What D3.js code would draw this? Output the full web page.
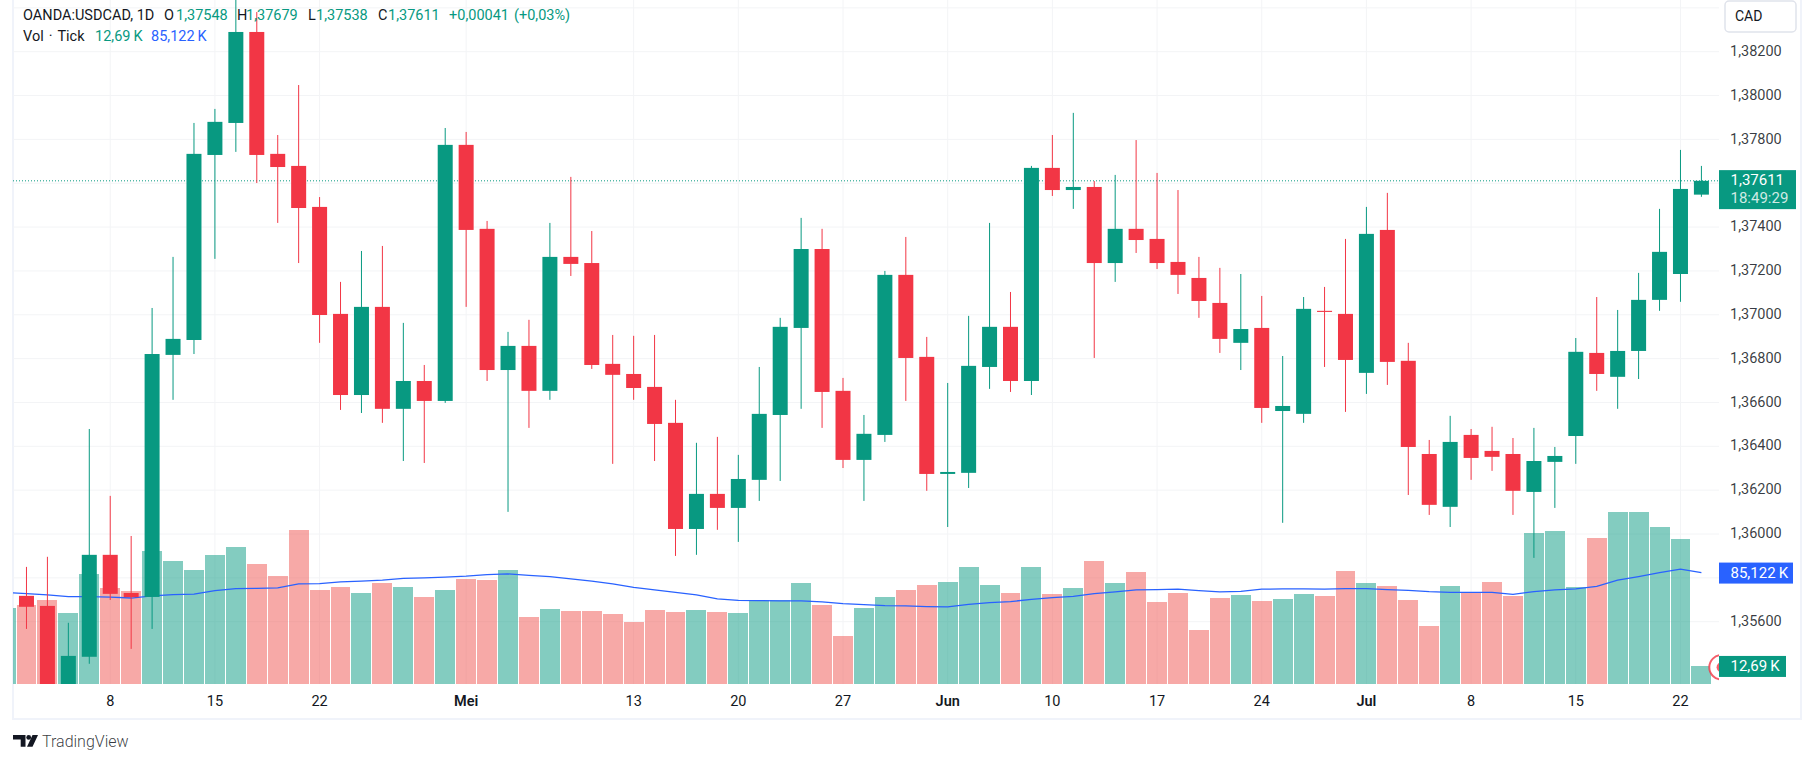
<!DOCTYPE html>
<html>
<head>
<meta charset="utf-8">
<script src="https://cdn.jsdelivr.net/npm/d3@7"></script>
<style>
  html, body { margin: 0; padding: 0; background: #fff; }
  text { font-family: Roboto, sans-serif; }
</style>
</head>
<body>
<div id="chart"></div>
<script>
const WIDTH = 1814;
const HEIGHT = 763;

const UP = "#089981";
const DOWN = "#f23645";
const VOL_DOWN = "#ef5350";
const MA_COLOR = "#2962ff";
const GRID = "#f3f4f6";
const BORDER = "#f0f3fa";
const INK = "#131722";

// trading days, Apr 1 - Jul 23 (index 0 is cut off by the left edge)
const dates = [
  "04-01","04-02","04-03","04-04","04-05",
  "04-08","04-09","04-10","04-11","04-12",
  "04-15","04-16","04-17","04-18","04-19",
  "04-22","04-23","04-24","04-25","04-26",
  "04-29","04-30","05-01","05-02","05-03",
  "05-06","05-07","05-08","05-09","05-10",
  "05-13","05-14","05-15","05-16","05-17",
  "05-20","05-21","05-22","05-23","05-24",
  "05-27","05-28","05-29","05-30","05-31",
  "06-03","06-04","06-05","06-06","06-07",
  "06-10","06-11","06-12","06-13","06-14",
  "06-17","06-18","06-19","06-20","06-21",
  "06-24","06-25","06-26","06-27","06-28",
  "07-01","07-02","07-03","07-04","07-05",
  "07-08","07-09","07-10","07-11","07-12",
  "07-15","07-16","07-17","07-18","07-19",
  "07-22","07-23"
];

const open = [
  1.35720,1.35718,1.35672,1.35300,1.35440,1.35905,1.35731,1.35713,1.36817,1.36885,
  1.37729,1.37875,1.38290,1.37734,1.37679,1.37492,1.37004,1.36634,1.37036,1.36571,
  1.36698,1.36607,1.37775,1.37392,1.36748,1.36858,1.36653,1.37264,1.37236,1.36776,
  1.36730,1.36671,1.36507,1.36023,1.36183,1.36119,1.36247,1.36543,1.36940,1.37300,
  1.36653,1.36338,1.36452,1.37182,1.36808,1.36274,1.36279,1.36762,1.36945,1.36698,
  1.37670,1.37569,1.37583,1.37236,1.37392,1.37346,1.37241,1.37168,1.37054,1.36872,
  1.36940,1.36561,1.36548,1.37018,1.37004,1.36735,1.37387,1.36790,1.36365,1.36124,
  1.36452,1.36379,1.36365,1.36192,1.36329,1.36447,1.36826,1.36717,1.36835,1.37068,
  1.37186,1.37548
];
const high = [
  1.35800,1.35850,1.35896,1.35595,1.36479,1.36174,1.35991,1.37031,1.37264,1.37875,
  1.37939,1.38480,1.38381,1.37820,1.38048,1.37537,1.37150,1.37291,1.37314,1.36963,
  1.36771,1.37852,1.37834,1.37428,1.36922,1.36977,1.37419,1.37629,1.37382,1.36908,
  1.36904,1.36908,1.36612,1.36416,1.36443,1.36361,1.36762,1.36986,1.37442,1.37392,
  1.36712,1.36543,1.37200,1.37355,1.36899,1.36689,1.36995,1.37419,1.37104,1.37679,
  1.37820,1.37921,1.37610,1.37638,1.37797,1.37647,1.37569,1.37264,1.37214,1.37186,
  1.37086,1.36812,1.37081,1.37127,1.37346,1.37492,1.37556,1.36872,1.36429,1.36539,
  1.36479,1.36489,1.36438,1.36484,1.36397,1.36894,1.37081,1.37022,1.37191,1.37483,
  1.37752,1.37679
];
const low = [
  1.35500,1.35567,1.35250,1.35260,1.35408,1.35699,1.35476,1.35567,1.36612,1.36821,
  1.37255,1.37743,1.37601,1.37419,1.37236,1.36872,1.36566,1.36552,1.36507,1.36333,
  1.36324,1.36598,1.37036,1.36698,1.36101,1.36484,1.36612,1.37177,1.36753,1.36320,
  1.36612,1.36333,1.35900,1.35905,1.36019,1.35964,1.36151,1.36242,1.36571,1.36484,
  1.36301,1.36151,1.36420,1.36607,1.36197,1.36032,1.36210,1.36662,1.36648,1.36634,
  1.37542,1.37483,1.36803,1.37150,1.37282,1.37209,1.37095,1.36986,1.36826,1.36748,
  1.36507,1.36051,1.36507,1.36762,1.36557,1.36639,1.36680,1.36178,1.36087,1.36032,
  1.36247,1.36288,1.36087,1.35891,1.36119,1.36320,1.36653,1.36571,1.36707,1.37018,
  1.37059,1.37538
];
const close = [
  1.35730,1.35668,1.35300,1.35444,1.35905,1.35727,1.35712,1.36821,1.36890,1.37734,
  1.37880,1.38290,1.37729,1.37674,1.37487,1.36999,1.36634,1.37036,1.36571,1.36698,
  1.36607,1.37775,1.37387,1.36748,1.36858,1.36653,1.37264,1.37232,1.36771,1.36726,
  1.36666,1.36502,1.36023,1.36183,1.36119,1.36251,1.36548,1.36945,1.37300,1.36648,
  1.36338,1.36457,1.37182,1.36803,1.36274,1.36283,1.36767,1.36945,1.36698,1.37670,
  1.37569,1.37583,1.37236,1.37392,1.37341,1.37236,1.37182,1.37063,1.36890,1.36935,
  1.36575,1.36584,1.37027,1.37013,1.36794,1.37369,1.36785,1.36397,1.36133,1.36420,
  1.36347,1.36352,1.36197,1.36333,1.36356,1.36831,1.36730,1.36835,1.37068,1.37287,
  1.37574,1.37611
];

// tick volume in thousands, up bars green and down bars red
const volume = [
  57.7,60.0,63.9,53.8,84.1,73.2,70.9,101.9,94.2,87.2,
  98.8,105.0,91.8,82.5,118.2,71.7,74.0,69.3,77.1,74.0,
  66.2,71.7,80.2,79.4,87.2,50.7,56.9,55.4,55.4,53.0,
  46.8,56.1,54.6,56.1,54.6,53.8,63.9,63.9,77.1,60.0,
  36.0,57.7,66.2,71.7,75.5,77.9,89.5,75.5,69.3,89.5,
  68.5,73.2,94.2,77.1,85.6,62.3,69.3,40.6,65.4,67.8,
  63.1,64.7,68.5,67.0,86.4,77.1,74.8,63.9,43.7,74.8,
  69.3,77.9,67.0,115.9,117.4,74.0,112.0,132.2,132.2,120.5,
  111.2,12.69
];
const volumeMA = [
  69.6,68.8,67.8,66.5,66.5,66.0,65.4,67.0,68.0,68.5,
  71.1,72.7,72.9,73.2,76.3,76.6,77.9,78.4,79.2,80.7,
  81.0,81.5,82.3,83.5,84.1,83.0,82.0,80.2,78.4,76.3,
  73.7,71.7,69.8,67.8,64.7,63.6,63.4,63.1,63.1,62.3,
  61.0,60.3,59.5,59.2,58.7,58.5,60.5,61.8,62.6,64.4,
  65.7,66.7,68.8,70.1,71.7,71.9,72.2,71.1,70.1,70.6,
  72.2,72.4,72.4,72.2,72.7,72.7,71.9,71.4,70.4,69.8,
  69.8,69.8,68.3,70.4,71.7,72.4,74.5,79.2,82.0,85.1,
  87.7,85.122
];

const gridPrices = [1.384,1.382,1.38,1.378,1.376,1.374,1.372,1.37,1.368,1.366,1.364,1.362,1.36,1.358,1.356];
const labelPrices = [1.382,1.38,1.378,1.374,1.372,1.37,1.368,1.366,1.364,1.362,1.36,1.356];
const timeTicks = [
  ["04-08","8"],["04-15","15"],["04-22","22"],["05-01","Mei"],["05-13","13"],
  ["05-20","20"],["05-27","27"],["06-03","Jun"],["06-10","10"],["06-17","17"],
  ["06-24","24"],["07-01","Jul"],["07-08","8"],["07-15","15"],["07-22","22"]
];
const monthLabels = ["Mei","Jun","Jul"];

const lastPrice = 1.37611;
const lastVolume = 12.69;
const lastMA = 85.122;
const countdown = "18:49:29";

const legendTop = [
  ["OANDA:USDCAD, 1D", 23, INK], ["O", 164, INK], ["1,37548", 176, UP],
  ["H", 237, INK], ["1,37679", 246, UP], ["L", 308, INK], ["1,37538", 316, UP],
  ["C", 378, INK], ["1,37611", 388, UP], ["+0,00041", 449, UP], ["(+0,03%)", 514, UP]
];
const legendVol = [
  ["Vol · Tick", 23, INK], ["12,69\u2009K", 95, UP], ["85,122\u2009K", 151, MA_COLOR]
];

// layout
const plot = { left: 13, right: 1719, bottom: 684, frame: 719, axisRight: 1801 };
const FONT_SIZE = 14.5;

const locale = d3.formatLocale({ decimal: ",", thousands: ".", grouping: [3], currency: ["", ""] });
const fmtPrice = locale.format(".5f");

const candles = dates.map((d, i) => ({
  date: d, o: open[i], h: high[i], l: low[i], c: close[i], v: volume[i], ma: volumeMA[i]
}));
const isUp = (d) => d.c >= d.o;

const svg = d3.select("#chart").append("svg")
  .attr("xmlns", "http://www.w3.org/2000/svg")
  .attr("viewBox", `0 0 ${WIDTH} ${HEIGHT}`)
  .attr("width", WIDTH)
  .attr("height", HEIGHT)
  .style("display", "block");

svg.append("defs").append("clipPath").attr("id", "pane")
  .append("rect")
  .attr("x", plot.left).attr("y", 0)
  .attr("width", plot.right - plot.left).attr("height", plot.bottom);

const x = d3.scaleBand()
  .domain(dates)
  .range([5.55 - 10.475, 1701.4 + 10.475])
  .paddingInner(0);
const cx = (d) => x(d) + x.bandwidth() / 2;

const y = d3.scaleLinear().domain([1.382, 1.356]).range([51.7, 621.7]);
const yVol = d3.scaleLinear().domain([0, 100]).range([682.3, 553.4]);

// frame
svg.append("path")
  .attr("d", `M ${plot.left} 0 V ${plot.frame} H ${plot.axisRight} V 0`)
  .attr("fill", "none").attr("stroke", BORDER).attr("stroke-width", 2);

// grid
svg.append("g").selectAll("line").data(gridPrices).join("line")
  .attr("x1", plot.left).attr("x2", plot.right)
  .attr("y1", (d) => y(d)).attr("y2", (d) => y(d))
  .attr("stroke", GRID).attr("stroke-width", 1);
svg.append("g").selectAll("line").data(timeTicks).join("line")
  .attr("x1", (d) => cx(d[0])).attr("x2", (d) => cx(d[0]))
  .attr("y1", 0).attr("y2", plot.bottom)
  .attr("stroke", GRID).attr("stroke-width", 1);

const pane = svg.append("g").attr("clip-path", "url(#pane)");

// volume bars
pane.append("g").selectAll("rect").data(candles).join("rect")
  .attr("x", (d) => x(d.date) + 0.5)
  .attr("width", x.bandwidth() - 1)
  .attr("y", (d) => yVol(d.v))
  .attr("height", (d) => plot.bottom - yVol(d.v))
  .attr("fill", (d) => isUp(d) ? UP : VOL_DOWN)
  .attr("fill-opacity", 0.5)
  .attr("shape-rendering", "crispEdges");

// last price line
pane.append("line")
  .attr("x1", plot.left).attr("x2", plot.right)
  .attr("y1", y(lastPrice)).attr("y2", y(lastPrice))
  .attr("stroke", UP).attr("stroke-dasharray", "1 2");

// volume moving average
pane.append("path")
  .datum(candles)
  .attr("d", d3.line().x((d) => cx(d.date)).y((d) => yVol(d.ma)))
  .attr("fill", "none").attr("stroke", MA_COLOR).attr("stroke-width", 1.25);

// candles
const candle = pane.append("g").selectAll("g").data(candles).join("g")
  .attr("fill", (d) => isUp(d) ? UP : DOWN)
  .attr("stroke", (d) => isUp(d) ? UP : DOWN);
candle.append("line")
  .attr("x1", (d) => cx(d.date)).attr("x2", (d) => cx(d.date))
  .attr("y1", (d) => y(d.h)).attr("y2", (d) => y(d.l))
  .attr("stroke-width", 1);
candle.append("rect")
  .attr("x", (d) => cx(d.date) - 7.5)
  .attr("width", 15)
  .attr("y", (d) => y(Math.max(d.o, d.c)))
  .attr("height", (d) => Math.max(1, Math.abs(y(d.o) - y(d.c))))
  .attr("stroke", "none");

// event marker, cut off by the price axis
pane.append("circle")
  .attr("cx", 1721.6).attr("cy", 667.3).attr("r", 12.3)
  .attr("fill", "#fff").attr("stroke", DOWN).attr("stroke-opacity", 0.8).attr("stroke-width", 2);
pane.append("circle")
  .attr("cx", 1721.6).attr("cy", 667.3).attr("r", 5)
  .attr("fill", DOWN).attr("fill-opacity", 0.8);

// price axis
const axisY = svg.append("g")
  .attr("transform", `translate(${plot.right},0)`)
  .call(d3.axisRight(y).tickValues(labelPrices).tickFormat(fmtPrice).tickSize(0).tickPadding(11));
axisY.select(".domain").remove();
axisY.selectAll("text").attr("fill", INK).attr("font-size", FONT_SIZE).attr("fill-opacity", 0.85)
  .attr("y", -1)
  .style("font-family", "Roboto, sans-serif");

// time axis
const tickLabel = new Map(timeTicks);
const axisX = svg.append("g")
  .attr("transform", `translate(0,${plot.bottom})`)
  .call(d3.axisBottom(x).tickValues(timeTicks.map((d) => d[0])).tickFormat((d) => tickLabel.get(d)).tickSize(0).tickPadding(12));
axisX.select(".domain").remove();
axisX.selectAll("text").attr("fill", INK).attr("font-size", FONT_SIZE)
  .style("font-family", "Roboto, sans-serif")
  .attr("font-weight", (d) => monthLabels.includes(tickLabel.get(d)) ? 600 : 400);

// currency button
svg.append("rect")
  .attr("x", 1725).attr("y", 1).attr("width", 71).attr("height", 31).attr("rx", 4)
  .attr("fill", "#fff").attr("stroke", "#e0e3eb").attr("stroke-width", 1.5);
svg.append("text").attr("x", 1735).attr("y", 20.5).attr("font-size", 14).attr("fill", INK).text("CAD");

// value labels on the axis
function valueLabel(top, h, right, color, lines) {
  svg.append("rect")
    .attr("x", plot.right).attr("y", top)
    .attr("width", right - plot.right).attr("height", h)
    .attr("fill", color);
  lines.forEach((l) => {
    svg.append("text")
      .attr("x", plot.right + 11.5).attr("y", l.y)
      .attr("font-size", 15).attr("fill", l.color || "#fff")
      .text(l.text);
  });
}
valueLabel(y(lastPrice) - 10.7, 39, 1796, UP, [
  { text: fmtPrice(lastPrice), y: y(lastPrice) + 4.5 },
  { text: countdown, y: y(lastPrice) + 22, color: "#cfeae4" }
]);
valueLabel(yVol(lastMA) - 10, 21, 1793, MA_COLOR, [
  { text: locale.format(".3f")(lastMA) + "\u2009K", y: yVol(lastMA) + 5 }
]);
valueLabel(yVol(lastVolume) - 10, 21, 1786, UP, [
  { text: locale.format(".2f")(lastVolume) + "\u2009K", y: yVol(lastVolume) + 5 }
]);

// legend
const legend = svg.append("g").attr("font-size", FONT_SIZE);
legend.selectAll("text.top").data(legendTop).join("text").attr("class", "top")
  .attr("x", (d) => d[1]).attr("y", 20).attr("fill", (d) => d[2]).text((d) => d[0]);
legend.selectAll("text.vol").data(legendVol).join("text").attr("class", "vol")
  .attr("x", (d) => d[1]).attr("y", 40.5).attr("fill", (d) => d[2])
  .style("word-spacing", "1.5px")
  .text((d) => d[0]);

// footer logo
const logo = svg.append("g").attr("transform", "translate(13,735)").attr("fill", INK);
logo.append("path").attr("d", "M0 0 H12.5 V11.7 H7.7 V4.5 H0 Z");
logo.append("circle").attr("cx", 15.7).attr("cy", 2.4).attr("r", 2.4);
logo.append("path").attr("d", "M19.5 0 H25 L19.5 11.7 H14 Z");
svg.append("text").attr("x", 42).attr("y", 747).attr("font-size", 16).attr("font-weight", 300)
  .attr("fill", INK).attr("fill-opacity", 0.85).text("TradingView");
</script>
</body>
</html>
